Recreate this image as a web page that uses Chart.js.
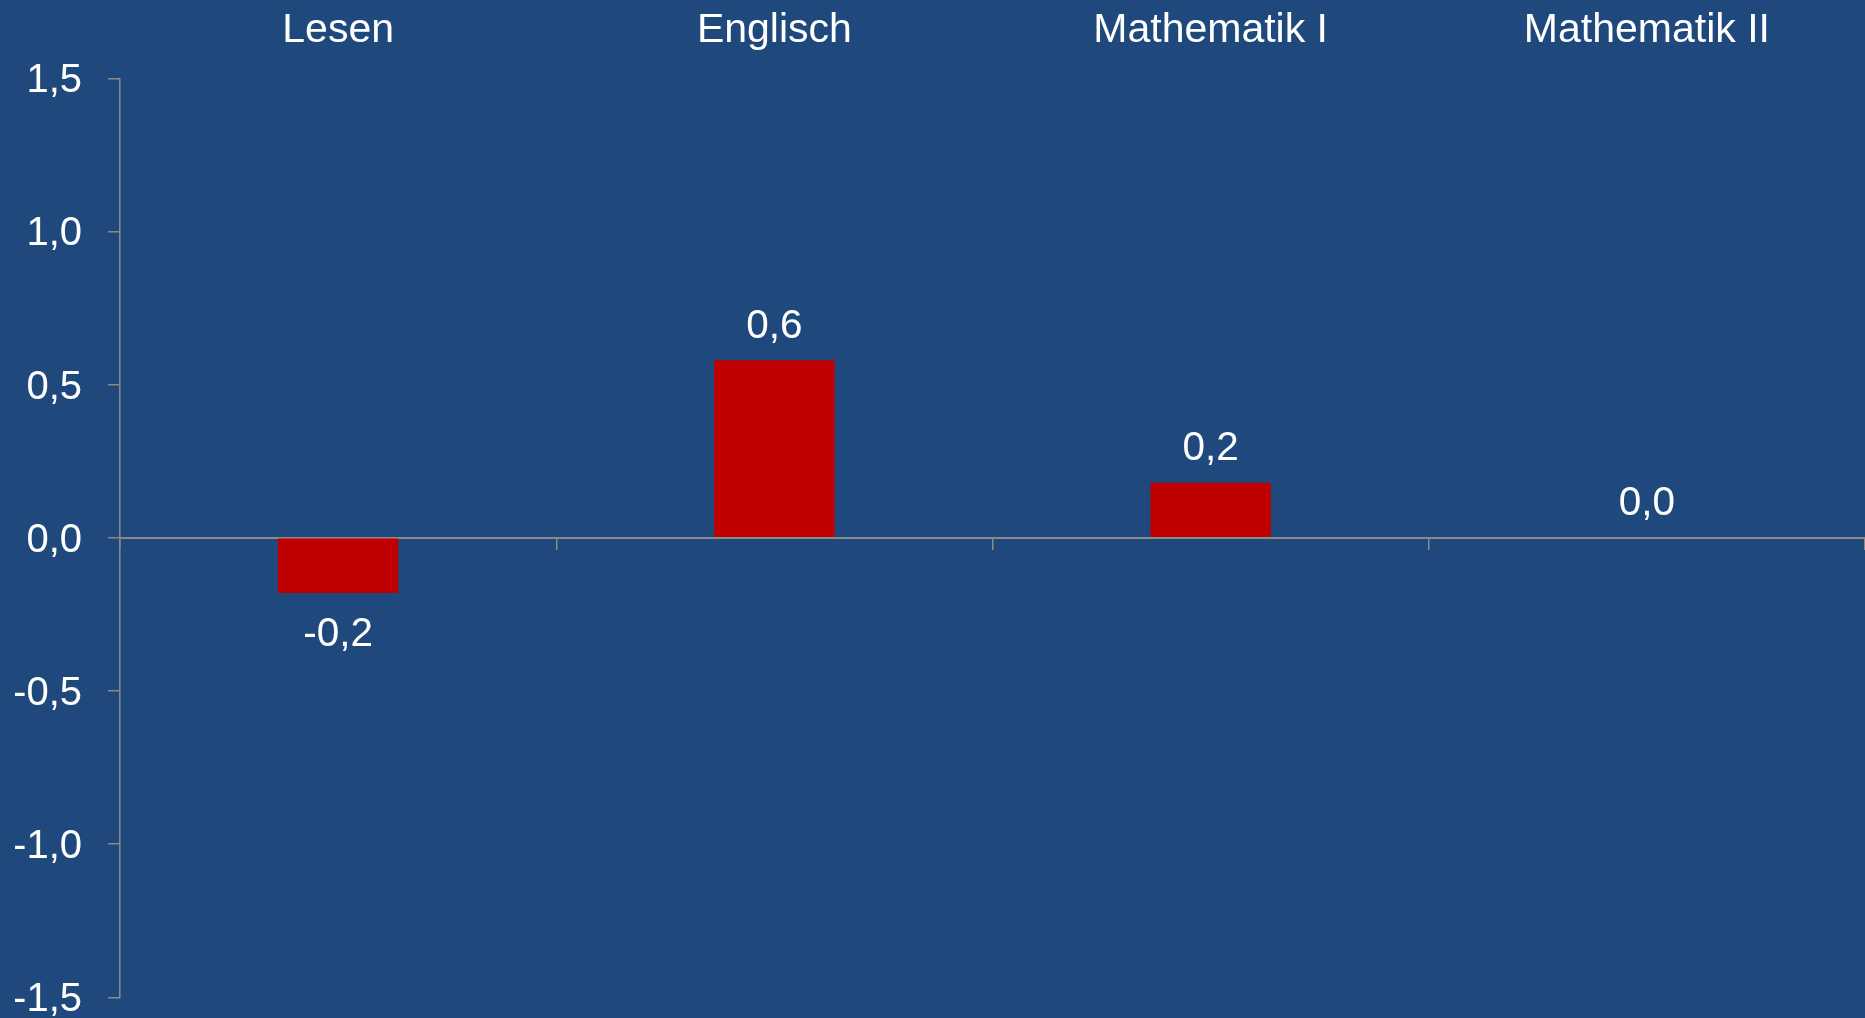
<!DOCTYPE html>
<html>
<head>
<meta charset="utf-8">
<script src="https://cdn.jsdelivr.net/npm/chart.js@4/dist/chart.umd.min.js"></script>
<style>
  html, body { margin: 0; padding: 0; background: #1f497d; overflow: hidden; }
  canvas { display: block; }
</style>
</head>
<body>
<canvas id="mychart" width="1865" height="1018"></canvas>
<script>
var categories = ['Lesen', 'Englisch', 'Mathematik I', 'Mathematik II'];
var values = [-0.18, 0.58, 0.18, 0.0];
var yTicks = [-1.5, -1.0, -0.5, 0.0, 0.5, 1.0, 1.5];

var fontFamily = '"Liberation Sans", Arial, sans-serif';
var axisGrey = '#8a8a8a';

function formatNumber(v) {
  return v.toFixed(1).replace('.', ',');
}

// writes the value next to each bar, above or below depending on the sign
var valueLabels = {
  id: 'valueLabels',
  afterDatasetsDraw: function (chart) {
    var ctx = chart.ctx;
    var meta = chart.getDatasetMeta(0);
    ctx.save();
    ctx.font = '40.5px ' + fontFamily;
    ctx.fillStyle = '#ffffff';
    ctx.textAlign = 'center';
    ctx.textBaseline = 'middle';
    meta.data.forEach(function (bar, i) {
      var v = chart.data.datasets[0].data[i];
      var y = v < 0 ? bar.y + 42 : bar.y - 33.5;
      ctx.fillText(formatNumber(v), bar.x, y);
    });
    ctx.restore();
  }
};

var ctx = document.getElementById('mychart').getContext('2d');
var chart = new Chart(ctx, {
  type: 'bar',
  data: {
    labels: categories,
    datasets: [{
      data: values,
      backgroundColor: '#c00000',
      borderWidth: 0,
      categoryPercentage: 1,
      barPercentage: 0.276
    }]
  },
  options: {
    responsive: false,
    devicePixelRatio: 1,
    animation: false,
    layout: { padding: { top: 6.3, left: 15, right: 0, bottom: 20.7 } },
    plugins: {
      legend: { display: false },
      tooltip: { enabled: false }
    },
    scales: {
      x: {
        type: 'category',
        position: { y: 0 },
        offset: true,
        grid: {
          offset: true,
          drawOnChartArea: false,
          tickLength: 11,
          color: axisGrey,
          lineWidth: 1.5
        },
        border: { color: axisGrey, width: 2 },
        ticks: { display: false }
      },
      x2: {
        type: 'category',
        position: 'top',
        offset: true,
        grid: { display: false, drawTicks: false },
        border: { display: false },
        ticks: {
          color: '#ffffff',
          padding: 23.5,
          font: { family: fontFamily, size: 41 }
        },
        afterFit: function (scale) {
          scale.height = 72;
          scale.paddingLeft = 0;
          scale.paddingRight = 0;
        }
      },
      y: {
        min: -1.5,
        max: 1.5,
        afterBuildTicks: function (scale) {
          scale.ticks = yTicks.map(function (v) { return { value: v }; });
        },
        grid: {
          drawOnChartArea: false,
          tickLength: 12,
          color: axisGrey,
          lineWidth: 1.5
        },
        border: { color: axisGrey, width: 1.5 },
        ticks: {
          color: '#ffffff',
          padding: 26,
          labelOffset: 3,
          font: { family: fontFamily, size: 40 },
          callback: function (v) { return formatNumber(v); }
        },
        afterFit: function (scale) {
          scale.width = 105;
          scale.paddingTop = 0;
          scale.paddingBottom = 0;
        }
      }
    }
  },
  plugins: [valueLabels]
});
</script>
</body>
</html>
